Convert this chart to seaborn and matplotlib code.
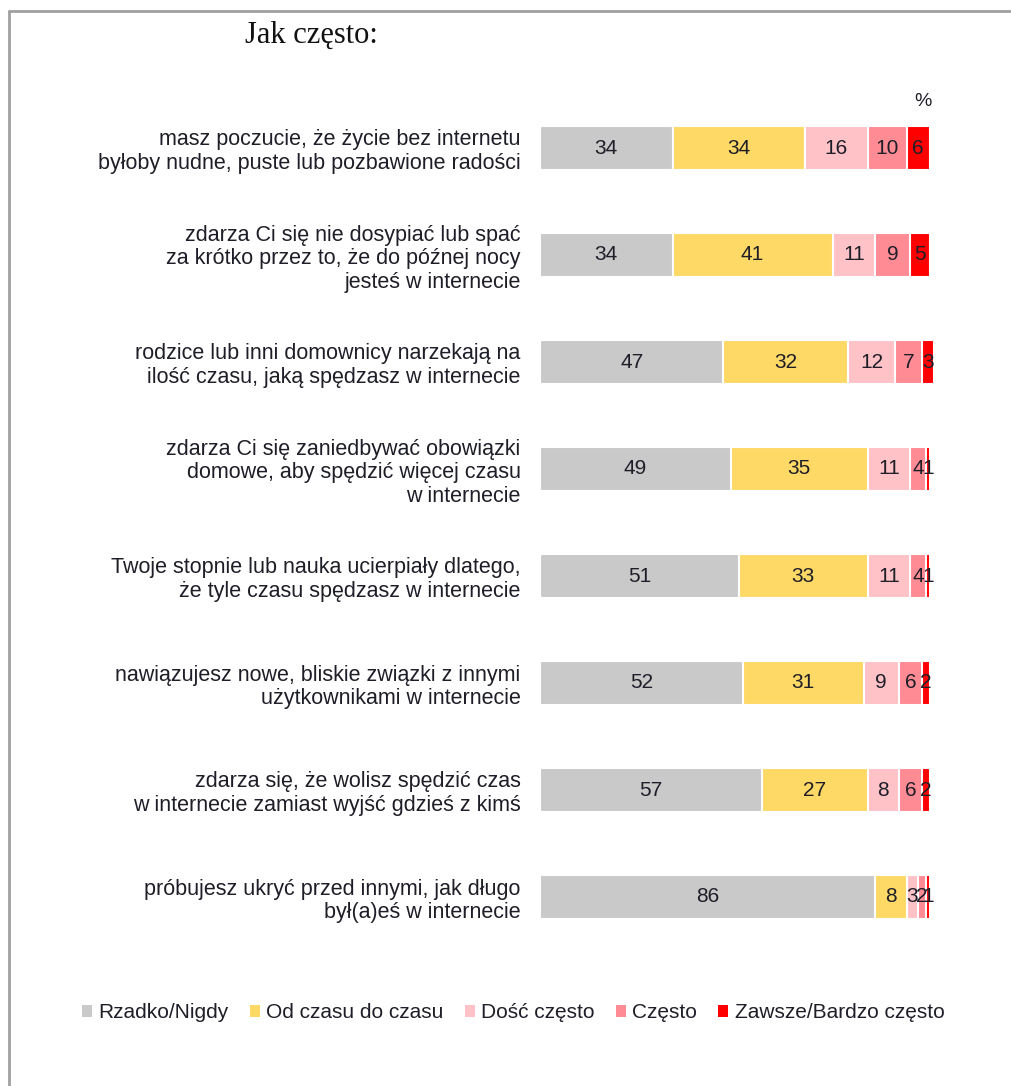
import numpy as np
import pandas as pd
import matplotlib
matplotlib.use("Agg")
import matplotlib.pyplot as plt
from matplotlib.lines import Line2D
from matplotlib.patches import Patch
import seaborn as sns

sns.set_theme(style="white")
plt.rcParams['font.family'] = ['Liberation Sans', 'DejaVu Sans']

categories = [
    "masz poczucie, że życie bez internetu\nbyłoby nudne, puste lub pozbawione radości",
    "zdarza Ci się nie dosypiać lub spać\nza krótko przez to, że do późnej nocy\njesteś w internecie",
    "rodzice lub inni domownicy narzekają na\nilość czasu, jaką spędzasz w internecie",
    "zdarza Ci się zaniedbywać obowiązki\ndomowe, aby spędzić więcej czasu\nw internecie",
    "Twoje stopnie lub nauka ucierpiały dlatego,\nże tyle czasu spędzasz w internecie",
    "nawiązujesz nowe, bliskie związki z innymi\nużytkownikami w internecie",
    "zdarza się, że wolisz spędzić czas\nw internecie zamiast wyjść gdzieś z kimś",
    "próbujesz ukryć przed innymi, jak długo\nbył(a)eś w internecie",
]
series_names = ["Rzadko/Nigdy", "Od czasu do czasu", "Dość często", "Często", "Zawsze/Bardzo często"]
rzadko = [34, 34, 47, 49, 51, 52, 57, 86]
od_czasu = [34, 41, 32, 35, 33, 31, 27, 8]
dosc_czesto = [16, 11, 12, 11, 11, 9, 8, 3]
czesto = [10, 9, 7, 4, 4, 6, 6, 2]
zawsze = [6, 5, 3, 1, 1, 2, 2, 1]
colors = ["#C9C9C9", "#FFD966", "#FFC2C7", "#FF8C95", "#FF0000"]

series = [rzadko, od_czasu, dosc_czesto, czesto, zawsze]
vals = np.array(series, dtype=float)  # shape (5, 8)
cum = np.cumsum(vals, axis=0)

df = pd.DataFrame({"cat": categories})
for i in range(len(series)):
    df[f"cum{i}"] = cum[i]

fig = plt.figure(figsize=(10.12, 10.86), dpi=100)
ax = fig.add_axes([540/1012, 1 - 950.5/1086, 390/1012, (950.5 - 94.5)/1086])

for i in reversed(range(len(series))):
    sns.barplot(data=df, y="cat", x=f"cum{i}", orient="h", color=colors[i],
                width=0.41, edgecolor="white", linewidth=1.5, errorbar=None,
                saturation=1, ax=ax)

for p in ax.patches:
    p.set_clip_on(False)

for i in range(len(series)):
    for j in range(len(categories)):
        v = vals[i, j]
        ax.text(cum[i, j] - v / 2, j, f"{int(v)}", ha="center", va="center",
                fontsize=15, color="#1E1E28", clip_on=False)

ax.set_xlim(0, 100)
ax.set_ylim(7.5, -0.5)
ax.set_xlabel("")
ax.set_ylabel("")
ax.set_xticks([])
for s in ax.spines.values():
    s.set_visible(False)
ax.tick_params(axis="y", length=0, pad=14, labelsize=15.5, colors="#1E1E28")
for t in ax.get_yticklabels():
    t.set_linespacing(1.15)
    t.set_multialignment("right")

fig.text(245/1012, 1 - 35/1086, "Jak często:", family="Liberation Serif",
         fontsize=22, ha="left", va="center", color="#111111")
fig.text(923/1012, 1 - 102/1086, "%", fontsize=14, ha="center", va="center",
         color="#1E1E28")

handles = [Patch(facecolor=c, edgecolor="none") for c in colors]
fig.legend(handles, series_names, loc="center", bbox_to_anchor=(0.507, 1 - 1013/1086),
           ncol=5, frameon=False, fontsize=15, handlelength=0.5, handleheight=0.5,
           handletextpad=0.3, columnspacing=1.0, labelcolor="#1E1E28")

fig.add_artist(Line2D([9/1012, 1.0], [1 - 11/1086, 1 - 11/1086], color="#A0A0A0", lw=2,
                      transform=fig.transFigure))
fig.add_artist(Line2D([9/1012, 9/1012], [1 - 11/1086, 0.0], color="#A0A0A0", lw=2,
                      transform=fig.transFigure))

fig.savefig("out.png", dpi=100, facecolor="white")
